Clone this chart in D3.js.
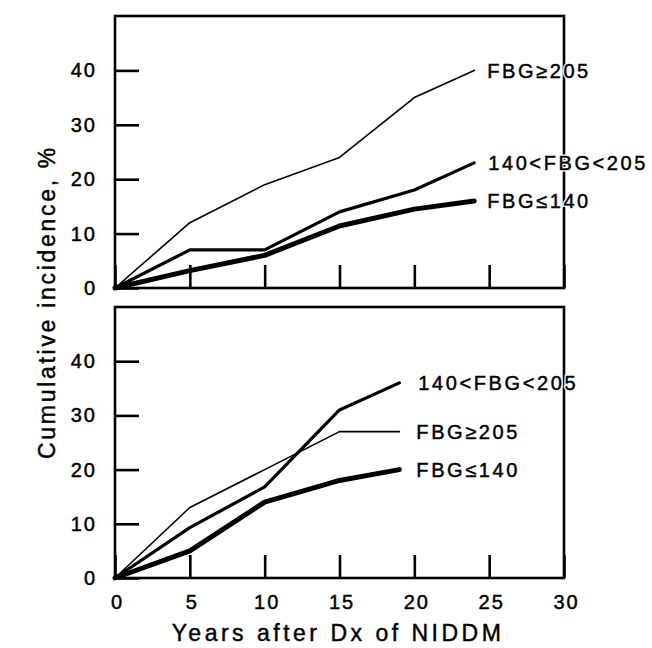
<!DOCTYPE html>
<html>
<head>
<meta charset="utf-8">
<script src="https://cdn.jsdelivr.net/npm/d3@7"></script>
<style>
  body { margin: 0; background: #fff; }
  text { font-family: "Liberation Sans", Arial, sans-serif; fill: #000; }
  .ink { stroke: #000; stroke-width: 0.45px; }
</style>
</head>
<body>
<svg width="652" height="648"></svg>
<script>
// data
const topYears = [0, 5, 10, 15, 20, 24];
const topHigh = [0, 12, 19, 24, 35, 40];     // FBG>=205
const topMid = [0, 7, 7, 14, 18, 23];        // 140<FBG<205
const topLow = [0, 3.2, 6, 11.4, 14.5, 16];  // FBG<=140

const botYears = [0, 5, 10, 15, 19];
const botHigh = [0, 13, 20, 27, 27];
const botMid = [0, 9.3, 16.8, 31, 36];
const botLow = [0, 5, 14, 18, 20];

const yTicks = [0, 10, 20, 30, 40];
const xTicks = [0, 5, 10, 15, 20, 25, 30];

const svg = d3.select('svg');

const left = 115, right = 564;
const panels = [
  {top: 16, bottom: 288, years: topYears, showX: false,
   series: [
     {name: 'FBG≥205', values: topHigh, w: 1.6, dx: 13},
     {name: '140<FBG<205', values: topMid, w: 3.2, dx: 14},
     {name: 'FBG≤140', values: topLow, w: 5, dx: 13}
   ]},
  {top: 307, bottom: 578, years: botYears, showX: true,
   series: [
     {name: '140<FBG<205', values: botMid, w: 3.2, dx: 19},
     {name: 'FBG≥205', values: botHigh, w: 1.6, dx: 17},
     {name: 'FBG≤140', values: botLow, w: 5, dx: 17}
   ]}
];

const xScale = d3.scaleLinear().domain([0, 30]).range([left, right]);

panels.forEach(p => {
  const yScale = d3.scaleLinear().domain([0, 50]).range([p.bottom, p.top]);
  const g = svg.append('g');

  // frame
  g.append('rect')
    .attr('x', left).attr('y', p.top)
    .attr('width', right - left).attr('height', p.bottom - p.top)
    .attr('fill', 'none').attr('stroke', '#000').attr('stroke-width', 2.6);

  const yAxisG = g.append('g')
    .attr('transform', `translate(${left},0)`)
    .call(d3.axisLeft(yScale).tickValues(yTicks).tickSize(-24).tickPadding(18));
  yAxisG.select('.domain').remove();
  yAxisG.selectAll('line').attr('stroke-width', 2.6);
  yAxisG.selectAll('text').attr('class', 'ink')
    .style('font-size', '20px').attr('letter-spacing', 2);

  const xAxisG = g.append('g')
    .attr('transform', `translate(0,${p.bottom})`)
    .call(d3.axisBottom(xScale).tickValues(xTicks).tickSize(-23).tickPadding(17)
      .tickFormat(p.showX ? d3.format('d') : ''));
  xAxisG.select('.domain').remove();
  xAxisG.selectAll('line').attr('stroke-width', 2.6);
  xAxisG.selectAll('text').attr('class', 'ink')
    .style('font-size', '20px').attr('letter-spacing', 2).attr('dx', 2);

  const line = d3.line()
    .x((d, i) => xScale(p.years[i]))
    .y(d => yScale(d));

  p.series.forEach(s => {
    g.append('path')
      .attr('d', line(s.values))
      .attr('fill', 'none')
      .attr('stroke', '#000')
      .attr('stroke-width', s.w)
      .attr('stroke-linejoin', 'round')
      .attr('stroke-linecap', 'round');

    const last = s.values.length - 1;
    // white knock-out behind the label, then the label itself
    [true, false].forEach(halo => {
      const t = g.append('text')
        .attr('x', xScale(p.years[last]) + s.dx)
        .attr('y', yScale(s.values[last]))
        .attr('dy', '0.36em')
        .attr('letter-spacing', 2.6)
        .style('font-size', '20px')
        .text(s.name);
      if (halo) t.style('fill', '#fff').attr('stroke', '#fff').attr('stroke-width', 3);
      else t.attr('class', 'ink');
    });
  });
});

// axis titles
svg.append('text')
  .attr('class', 'ink')
  .attr('transform', 'translate(55,302) rotate(-90)')
  .attr('text-anchor', 'middle')
  .attr('letter-spacing', 2.7)
  .style('font-size', '23px')
  .text('Cumulative incidence, %');

svg.append('text')
  .attr('class', 'ink')
  .attr('x', 338).attr('y', 641)
  .attr('text-anchor', 'middle')
  .attr('letter-spacing', 3.5)
  .style('font-size', '23px')
  .text('Years after Dx of NIDDM');
</script>
</body>
</html>
